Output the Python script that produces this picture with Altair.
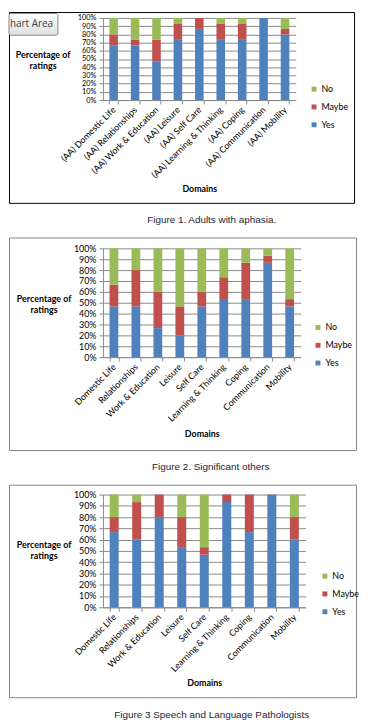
import altair as alt
import pandas as pd

domains = ["Domestic Life", "Relationships", "Work & Education", "Leisure", "Self Care",
           "Learning & Thinking", "Coping", "Communication", "Mobility"]
aa_domains = ["(AA) " + d for d in domains]
responses = ["No", "Maybe", "Yes"]
colors = ["#9BBB59", "#C0504D", "#4F81BD"]
tick_values = [0, 0.1, 0.2, 0.3, 0.4, 0.5, 0.6, 0.7, 0.8, 0.9, 1.0]

# Figure 1 - Adults with aphasia (counts out of 15)
aa_yes = [10, 10, 7, 11, 13, 11, 11, 15, 12]
aa_maybe = [2, 1, 4, 3, 2, 3, 3, 0, 1]
aa_no = [3, 4, 4, 1, 0, 1, 1, 0, 2]

# Figure 2 - Significant others
so_yes = [7, 7, 4, 3, 7, 8, 8, 13, 7]
so_maybe = [3, 5, 5, 4, 2, 3, 5, 1, 1]
so_no = [5, 3, 6, 8, 6, 4, 2, 1, 7]

# Figure 3 - Speech and Language Pathologists
slp_yes = [10, 9, 12, 8, 7, 14, 10, 15, 9]
slp_maybe = [2, 5, 3, 4, 1, 1, 5, 0, 3]
slp_no = [3, 1, 0, 3, 7, 0, 0, 0, 3]

captions = ["Figure 1.  Adults with aphasia.", "Figure 2.  Significant others",
            "Figure 3 Speech and Language Pathologists"]

FONT = "Lato"
one = pd.DataFrame({"k": [0]})


def long_df(cats, yes, maybe, no):
    rows = []
    for c, y, m, n in zip(cats, yes, maybe, no):
        rows.append({"domain": c, "response": "Yes", "count": y, "rank": 0})
        rows.append({"domain": c, "response": "Maybe", "count": m, "rank": 1})
        rows.append({"domain": c, "response": "No", "count": n, "rank": 2})
    return pd.DataFrame(rows)


def panel(df, cats, w, h, region, box, box_color, leg, ytitle, dom_y, caption, cap_xy, yfont,
          tooltip=False):
    bg = alt.Chart(one).mark_rect(opacity=0).encode(
        x=alt.value(region[0]), x2=alt.value(region[2]),
        y=alt.value(region[1]), y2=alt.value(region[3]))
    frame = alt.Chart(one).mark_rect(fillOpacity=0, stroke=box_color, strokeWidth=1).encode(
        x=alt.value(box[0]), x2=alt.value(box[2]),
        y=alt.value(box[1]), y2=alt.value(box[3]))
    bars = alt.Chart(df).mark_bar().encode(
        x=alt.X("domain:N", sort=cats,
                scale=alt.Scale(paddingInner=0.6, paddingOuter=0.3),
                axis=alt.Axis(title="Domains", labelAngle=-45, labelAlign="right",
                              labelBaseline="middle", labelPadding=4, tickBand="extent",
                              tickSize=4, titleY=dom_y, titleBaseline="middle",
                              titleFontWeight="bold", titleFontSize=9, labelFontSize=9,
                              labelOverlap=False, grid=False)),
        y=alt.Y("count:Q", stack="normalize", scale=alt.Scale(domain=[0, 1]),
                axis=alt.Axis(values=tick_values, format=".0%", grid=True,
                              title=["Percentage of", "ratings"], titleAngle=0,
                              titleX=ytitle[0], titleY=ytitle[1], titleAlign="center",
                              titleBaseline="middle", titleFontWeight="bold",
                              titleFontSize=9, titleLineHeight=11, labelFontSize=yfont,
                              labelPadding=3, tickSize=4)),
        color=alt.Color("response:N", scale=alt.Scale(domain=responses, range=colors),
                        legend=alt.Legend(title=None, orient="none", legendX=leg[0],
                                          legendY=leg[1], symbolType="square",
                                          symbolSize=25, labelFontSize=9, rowPadding=8,
                                          padding=0, labelOffset=3, symbolStrokeWidth=0)),
        order=alt.Order("rank:Q", sort="ascending"),
    )
    cap = alt.Chart(one).mark_text(text=caption, font="Liberation Sans", fontSize=10,
                                   align="center", baseline="middle",
                                   color="#1c1c30").encode(
        x=alt.value(cap_xy[0]), y=alt.value(cap_xy[1]))
    layers = [bg, frame, bars, cap]
    if tooltip:
        tip_box = alt.Chart(one).mark_rect(
            fill=alt.Gradient(gradient="linear", x1=0, y1=0, x2=0, y2=1,
                              stops=[alt.GradientStop(offset=0, color="#ffffff"),
                                     alt.GradientStop(offset=1, color="#dedede")]),
            stroke="#8a8a8a", strokeWidth=1, cornerRadius=2).encode(
            x=alt.value(-95), x2=alt.value(-45.5), y=alt.value(-4.5), y2=alt.value(17.5))
        tip_text = alt.Chart(one).mark_text(text="hart Area", font="Open Sans", fontSize=10,
                                            align="left", baseline="middle",
                                            color="#3c3c3c").encode(
            x=alt.value(-94), y=alt.value(6))
        layers += [tip_box, tip_text]
    return alt.layer(*layers).properties(width=w, height=h)


p1 = panel(long_df(aa_domains, aa_yes, aa_maybe, aa_no), aa_domains, 195, 83,
           region=(-95, -6, 257, 216), box=(-94.5, -5.5, 254.5, 187.5), box_color="#000000",
           leg=(209, 67.5), ytitle=(-61, 37), dom_y=89, caption=captions[0],
           cap_xy=(110, 204), yfont=7.5, tooltip=True)
p2 = panel(long_df(domains, so_yes, so_maybe, so_no), domains, 200, 110,
           region=(-95, -17, 257, 228), box=(-94.5, -10.5, 256.5, 204.5), box_color="#868686",
           leg=(213, 75.5), ytitle=(-60, 51), dom_y=77, caption=captions[1],
           cap_xy=(109, 221), yfont=9)
p3 = panel(long_df(domains, slp_yes, slp_maybe, slp_no), domains, 205, 114,
           region=(-95, -21, 257, 231), box=(-94.5, -9.5, 256.5, 205.5), box_color="#868686",
           leg=(220, 78), ytitle=(-60, 51), dom_y=76, caption=captions[2],
           cap_xy=(110, 223), yfont=9)

chart = alt.vconcat(p1, p2, p3, spacing=0).resolve_scale(color="independent").properties(
    padding=0
).configure_view(stroke=None).configure_axis(
    labelFont=FONT, titleFont=FONT, labelColor="#000000", titleColor="#000000",
    gridColor="#8a8a8a", domainColor="#8a8a8a", tickColor="#8a8a8a"
).configure_legend(labelFont=FONT, labelColor="#000000")

chart.save("out.html", embed_options={"renderer": "svg", "actions": False})
